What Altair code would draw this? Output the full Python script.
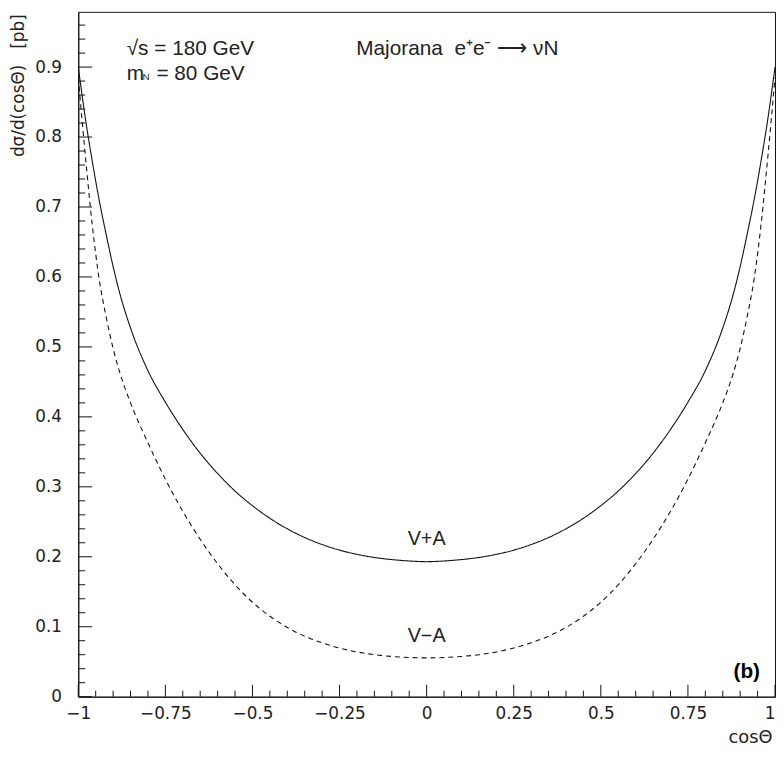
import altair as alt
import numpy as np
import pandas as pd

# ---- data ----
cos_theta = [-1.00, -0.98, -0.96, -0.94, -0.92, -0.90, -0.88, -0.85, -0.80, -0.75,
             -0.70, -0.65, -0.60, -0.55, -0.50, -0.45, -0.40, -0.35, -0.30, -0.25,
             -0.20, -0.15, -0.10, -0.05, 0.00, 0.05, 0.10, 0.15, 0.20, 0.25,
             0.30, 0.35, 0.40, 0.45, 0.50, 0.55, 0.60, 0.65, 0.70, 0.75,
             0.80, 0.85, 0.88, 0.90, 0.92, 0.94, 0.96, 0.98, 1.00]

v_plus_a = [0.900, 0.828, 0.766, 0.710, 0.661, 0.615, 0.575, 0.527, 0.466, 0.421,
            0.382, 0.348, 0.319, 0.294, 0.273, 0.255, 0.240, 0.2275, 0.2175, 0.2095,
            0.2035, 0.199, 0.196, 0.194, 0.193, 0.194, 0.196, 0.199, 0.2035, 0.2095,
            0.2175, 0.2275, 0.240, 0.255, 0.273, 0.294, 0.319, 0.348, 0.382, 0.421,
            0.466, 0.527, 0.575, 0.615, 0.661, 0.710, 0.766, 0.828, 0.900]

v_minus_a = [0.885, 0.775, 0.675, 0.597, 0.543, 0.498, 0.462, 0.420, 0.363, 0.311,
             0.265, 0.225, 0.190, 0.160, 0.135, 0.115, 0.099, 0.0865, 0.077, 0.0695,
             0.064, 0.060, 0.0575, 0.056, 0.0555, 0.056, 0.0575, 0.060, 0.064, 0.0695,
             0.077, 0.0865, 0.099, 0.115, 0.135, 0.160, 0.190, 0.225, 0.265, 0.311,
             0.363, 0.420, 0.462, 0.498, 0.543, 0.597, 0.675, 0.775, 0.885]

series_names = ["V+A", "V−A"]

x_ticks = [-1, -0.75, -0.5, -0.25, 0, 0.25, 0.5, 0.75, 1]
y_ticks = [0, 0.1, 0.2, 0.3, 0.4, 0.5, 0.6, 0.7, 0.8, 0.9]

# ---- layout ----
W, H = 704, 692
YMAX = 0.979
INK = "#111111"
TXT = "#222222"
TICK_FONT = "DejaVu Sans"
NOTE_FONT = "Liberation Sans"
LABEL_EXPR = "replace(format(datum.value, '.2~f'), '-', '\u2212')"

n = len(cos_theta)
curves = pd.DataFrame({
    "x": cos_theta * 2,
    "y": v_plus_a + v_minus_a,
    "series": [series_names[0]] * n + [series_names[1]] * n,
})

xs = alt.Scale(domain=[-1, 1], nice=False, zero=False)
ys = alt.Scale(domain=[0, YMAX], nice=False, zero=False)

x_axis = alt.Axis(
    values=x_ticks, labelExpr=LABEL_EXPR, ticks=False, grid=False, labelFlush=False,
    labelOverlap=False, labelPadding=9, labelFont=TICK_FONT, labelFontSize=17,
    labelColor=TXT, domainColor=INK, domainWidth=1,
    labelAlign={"condition": {"test": "datum.value >= 1", "value": "right"},
                "value": "center"},
    title="cosΘ", titleFont=TICK_FONT, titleFontSize=18, titleFontWeight="normal",
    titleColor=TXT, titleX=W - 3, titleY=41, titleAlign="right",
    titleBaseline="middle", titleAnchor="end",
)
y_axis = alt.Axis(
    values=y_ticks, labelExpr=LABEL_EXPR, ticks=False, grid=False, labelFlush=False,
    labelOverlap=False, labelPadding=17, labelFont=TICK_FONT, labelFontSize=17,
    labelColor=TXT, labelBaseline="middle", domainColor=INK, domainWidth=1,
    title="dσ/d(cosΘ)\u00a0\u00a0\u00a0[pb]", titleFont=TICK_FONT, titleFontSize=17,
    titleFontWeight="normal", titleColor=TXT, titleAngle=270,
    titleX=-60, titleY=2, titleAlign="right", titleBaseline="middle",
)

lines = alt.Chart(curves).mark_line(
    color=INK, strokeWidth=1.1, interpolate="monotone", clip=True
).encode(
    x=alt.X("x:Q", scale=xs, axis=x_axis),
    y=alt.Y("y:Q", scale=ys, axis=y_axis),
    detail="series:N",
    strokeDash=alt.StrokeDash(
        "series:N",
        scale=alt.Scale(domain=series_names, range=[[1, 0], [5, 4]]),
        legend=None,
    ),
)

# ---- inward ticks ----
y_major = pd.DataFrame({"v": y_ticks})
y_minor = pd.DataFrame({"v": [round(v, 2) for v in np.arange(0, YMAX, 0.02)
                              if abs(round(v * 10) - v * 10) > 1e-6]})
x_major = pd.DataFrame({"v": x_ticks})
x_minor = pd.DataFrame({"v": [round(v, 2) for v in np.arange(-1, 1.0001, 0.05)
                              if abs(round(v * 4) - v * 4) > 1e-6]})


def ytick(df, length):
    return alt.Chart(df).mark_rule(color=INK, strokeWidth=1).encode(
        y=alt.Y("v:Q", scale=ys, axis=y_axis),
        x=alt.value(0), x2=alt.value(length),
    )


def xtick(df, length):
    return alt.Chart(df).mark_rule(color=INK, strokeWidth=1).encode(
        x=alt.X("v:Q", scale=xs, axis=x_axis),
        y=alt.value(H), y2=alt.value(H - length),
    )


def note(label, x, y, **kw):
    d = pd.DataFrame({"x": [x], "y": [y], "label": [label]})
    return alt.Chart(d).mark_text(**kw).encode(
        x=alt.X("x:Q", scale=xs, axis=x_axis),
        y=alt.Y("y:Q", scale=ys, axis=y_axis),
        text="label:N",
    )


notes = [
    note("√s = 180 GeV", -0.861, 0.917, align="left", baseline="alphabetic",
         font=NOTE_FONT, fontSize=21, color=TXT),
    note("m", -0.861, 0.881, align="left", baseline="alphabetic",
         font=NOTE_FONT, fontSize=21, color=TXT),
    note("N", -0.861, 0.881, align="left", baseline="alphabetic", dx=16,
         font=NOTE_FONT, fontSize=10, color=TXT),
    note("= 80 GeV", -0.861, 0.881, align="left", baseline="alphabetic", dx=30,
         font=NOTE_FONT, fontSize=21, color=TXT),
    note("Majorana\u00a0\u00a0e⁺e⁻ ⟶ νN", -0.202, 0.917, align="left",
         baseline="alphabetic", font=NOTE_FONT, fontSize=21, color=TXT),
    note("V+A", 0.0, 0.226, align="center", baseline="middle",
         font=NOTE_FONT, fontSize=20, color=TXT),
    note("V−A", 0.0, 0.086, align="center", baseline="middle",
         font=NOTE_FONT, fontSize=20, color=TXT),
    note("(b)", 0.957, 0.035, align="right", baseline="middle",
         font=NOTE_FONT, fontSize=21, fontWeight="bold", color="#000000"),
]

chart = alt.layer(
    lines,
    ytick(y_major, 14), ytick(y_minor, 7),
    xtick(x_major, 12), xtick(x_minor, 6),
    *notes,
).properties(
    width=W, height=H,
    padding={"left": 71, "top": 0, "right": 1, "bottom": 50},
    autosize=alt.AutoSizeParams(type="none"),
    background="white",
).configure_view(stroke=INK, strokeWidth=1)

chart.save("out.html", embed_options={"renderer": "svg", "actions": False})
